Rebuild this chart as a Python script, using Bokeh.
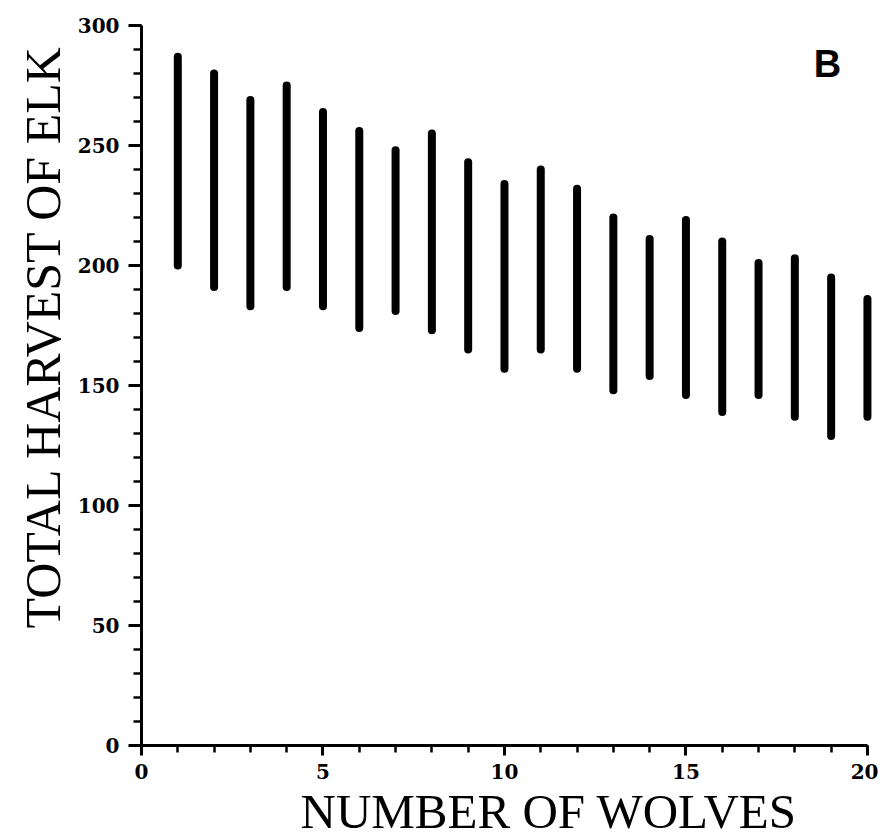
from bokeh.plotting import figure
from bokeh.models import Range1d, FixedTicker, Label, Title
from bokeh.embed import file_html
from bokeh.resources import INLINE

wolves = list(range(1, 21))
harvest_max = [287, 280, 269, 275, 264, 256, 248, 255, 243, 234,
               240, 232, 220, 211, 219, 210, 201, 203, 195, 186]
harvest_min = [200, 191, 183, 191, 183, 174, 181, 173, 165, 157,
               165, 157, 148, 154, 146, 139, 146, 137, 129, 137]
x_ticks = [0, 5, 10, 15, 20]
y_ticks = [0, 50, 100, 150, 200, 250, 300]
x_title = "NUMBER OF WOLVES"
y_title = "TOTAL HARVEST OF ELK"
panel_tag = "B"

p = figure(width=878, height=840, output_backend="svg", toolbar_location=None,
           x_range=Range1d(0, 20.25), y_range=Range1d(0, 300),
           min_border_left=141, min_border_right=2, min_border_top=25,
           min_border_bottom=95)
p.outline_line_color = None
p.grid.visible = False
p.background_fill_color = "white"

p.segment(x0=wolves, y0=harvest_min, x1=wolves, y1=harvest_max,
          line_color="black", line_width=8, line_cap="round")

for ax in (p.xaxis, p.yaxis):
    ax.axis_line_width = 3
    ax.axis_line_color = "black"
    ax.major_tick_line_width = 3
    ax.minor_tick_line_width = 2.5
    ax.major_tick_line_color = "black"
    ax.minor_tick_line_color = "black"
    ax.major_label_text_font = "DejaVu Serif"
    ax.major_label_text_font_style = "bold"
    ax.major_label_text_font_size = "20px"
    ax.major_label_text_color = "black"

p.xaxis.bounds = (0, 20)
p.xaxis.ticker = FixedTicker(ticks=x_ticks, minor_ticks=list(range(0, 21)))
p.yaxis.ticker = FixedTicker(ticks=y_ticks, minor_ticks=list(range(0, 301, 10)))

p.xaxis.major_tick_out = 10
p.xaxis.major_tick_in = 0
p.xaxis.minor_tick_out = 7
p.xaxis.minor_tick_in = 0
p.xaxis.major_label_standoff = 8

p.yaxis.major_tick_out = 13
p.yaxis.major_tick_in = 0
p.yaxis.minor_tick_out = 8
p.yaxis.minor_tick_in = 0
p.yaxis.major_label_standoff = 9

p.add_layout(Title(text=x_title, text_font="Liberation Serif",
                   text_font_style="normal", text_font_size="49px",
                   text_color="black", align="left", offset=159,
                   standoff=0), "below")
p.add_layout(Title(text=y_title, text_font="Liberation Serif",
                   text_font_style="normal", text_font_size="50px",
                   text_color="black", align="left", offset=117,
                   standoff=8), "left")
p.add_layout(Label(x=18.9, y=284, text=panel_tag, text_font="Liberation Sans",
                   text_font_style="bold", text_font_size="38px",
                   text_color="black", text_align="center",
                   text_baseline="middle"))

open("out.html", "w").write(file_html(p, INLINE))
